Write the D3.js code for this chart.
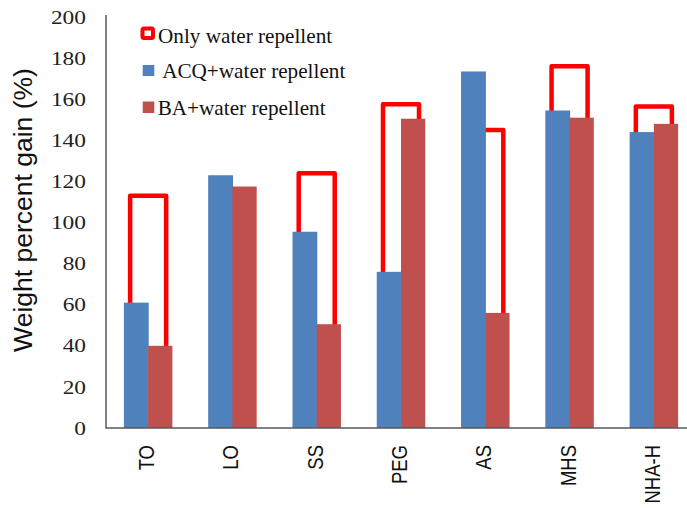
<!DOCTYPE html>
<html>
<head>
<meta charset="utf-8">
<script src="https://cdn.jsdelivr.net/npm/d3@7"></script>
<style>
  body { margin: 0; background: #fff; }
  svg { display: block; }
</style>
</head>
<body>
<div id="chart"></div>
<script>
// data
const categories = ["TO", "LO", "SS", "PEG", "AS", "MHS", "NHA-H"];
const onlyRepellent = [113, 100, 124, 157.5, 145, 176, 156.5];
const acqRepellent = [61, 123, 95.5, 76, 173.5, 154.5, 144];
const baRepellent = [40, 117.5, 50.5, 150.5, 56, 151, 148];
const yTicks = [0, 20, 40, 60, 80, 100, 120, 140, 160, 180, 200];
const seriesNames = ["Only water repellent", " ACQ+water repellent", "BA+water repellent"];

const width = 687, height = 508;
const svg = d3.select("#chart").append("svg")
  .attr("width", width)
  .attr("height", height);

let x = d3.scaleBand()
  .domain(categories)
  .range([106, 696])
  .padding(0);

let xPair = d3.scaleBand()
  .domain(["acq", "ba"])
  .range([0, x.bandwidth()])
  .paddingInner(0)
  .paddingOuter(0.738);

let xOnly = d3.scaleBand()
  .domain(["only"])
  .range([0, x.bandwidth()])
  .paddingOuter(0.67);

let y = d3.scaleLinear()
  .domain([0, 200])
  .range([428, 17]);

// hollow "only water repellent" bars sit behind the filled ones (open at the bottom)
svg.append("g").selectAll("path")
  .data(categories)
  .enter().append("path")
  .attr("d", (d, i) => {
    let x0 = x(d) + xOnly("only"), x1 = x0 + xOnly.bandwidth();
    return `M${x0},${y(0)}V${y(onlyRepellent[i])}H${x1}V${y(0)}`;
  })
  .attr("fill", "none")
  .attr("stroke", "#ff0000")
  .attr("stroke-width", 4.5)
  .attr("stroke-linejoin", "round");

svg.append("g").selectAll("rect")
  .data(categories)
  .enter().append("rect")
  .attr("x", d => x(d) + xPair("acq"))
  .attr("y", (d, i) => y(acqRepellent[i]))
  .attr("width", xPair.bandwidth() + 0.6)
  .attr("height", (d, i) => y(0) - y(acqRepellent[i]))
  .attr("fill", "#4f81bd");

svg.append("g").selectAll("rect")
  .data(categories)
  .enter().append("rect")
  .attr("x", d => x(d) + xPair("ba"))
  .attr("y", (d, i) => y(baRepellent[i]))
  .attr("width", xPair.bandwidth())
  .attr("height", (d, i) => y(0) - y(baRepellent[i]))
  .attr("fill", "#c0504d");

// y axis
let yAxis = svg.append("g")
  .attr("transform", "translate(106,0)")
  .call(d3.axisLeft(y).tickValues(yTicks).tickSize(0).tickPadding(0));
yAxis.select(".domain").remove();
yAxis.selectAll("text")
  .attr("x", -20 / 1.3)
  .attr("dy", "0.34em")
  .attr("transform", "scale(1.3,1)")
  .style("font-family", "'Liberation Serif', 'Times New Roman', serif")
  .style("font-size", "18px")
  .style("fill", "#222");

// x axis
let xAxis = svg.append("g")
  .attr("transform", "translate(0,428)")
  .call(d3.axisBottom(x).tickSize(0).tickPadding(0));
xAxis.select(".domain").remove();
xAxis.selectAll("text")
  .attr("x", 0)
  .attr("y", 0)
  .attr("dy", 0)
  .attr("text-anchor", "end")
  .attr("transform", "translate(6,17) rotate(-90) scale(1,1.2)")
  .style("font-family", "'Liberation Sans', Arial, sans-serif")
  .style("font-size", "18.5px")
  .style("fill", "#111");

svg.append("path")
  .attr("d", `M106,15V${y(0)}H${width}`)
  .attr("fill", "none")
  .attr("stroke", "#595959")
  .attr("stroke-width", 1.5);

svg.append("text")
  .attr("transform", `translate(32,${(67 + 353) / 2}) rotate(-90)`)
  .attr("text-anchor", "middle")
  .style("font-family", "'Liberation Sans', Arial, sans-serif")
  .style("font-size", "26.5px")
  .style("fill", "#111")
  .text("Weight percent gain (%)");

// legend
const legend = svg.append("g")
  .style("font-family", "'Liberation Serif', 'Times New Roman', serif")
  .style("font-size", "21.2px")
  .style("fill", "#111");

legend.append("rect")
  .attr("x", 142.5).attr("y", 28.5)
  .attr("width", 10.5).attr("height", 9.5)
  .attr("rx", 1.5)
  .attr("fill", "#fff")
  .attr("stroke", "#ff0000")
  .attr("stroke-width", 4);
legend.append("text").attr("x", 158).attr("y", 43.3).text(seriesNames[0]);

legend.append("rect")
  .attr("x", 142.7).attr("y", 65)
  .attr("width", 11.6).attr("height", 11)
  .attr("fill", "#4f81bd");
legend.append("text").attr("x", 158).attr("y", 78.3)
  .attr("xml:space", "preserve")
  .style("white-space", "pre")
  .text(seriesNames[1]);

legend.append("rect")
  .attr("x", 142.7).attr("y", 101.5)
  .attr("width", 11.6).attr("height", 11.5)
  .attr("fill", "#c0504d");
legend.append("text").attr("x", 157.7).attr("y", 114.5).text(seriesNames[2]);
</script>
</body>
</html>
